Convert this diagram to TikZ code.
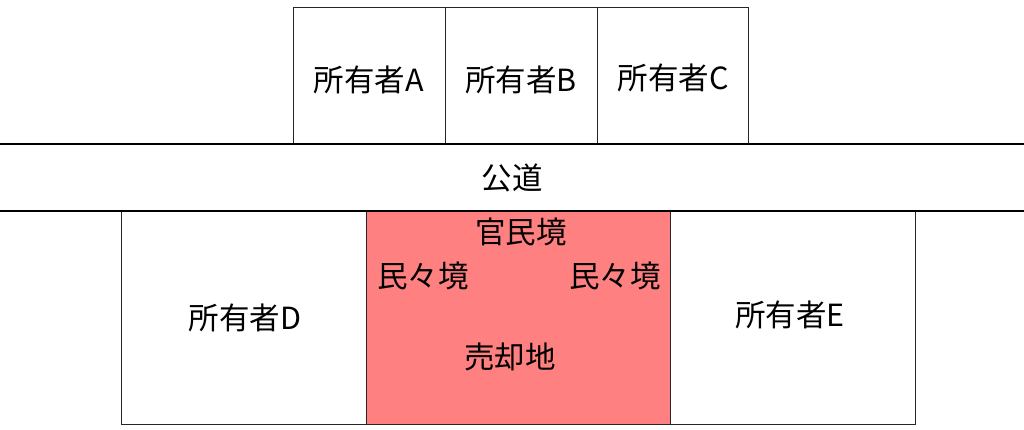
\documentclass[tikz,border=0pt]{standalone}
\usepackage{fontspec}
\setmainfont{Noto Sans CJK JP}
\definecolor{salered}{RGB}{255,128,128}
\begin{document}
\begin{tikzpicture}[x=1pt,y=-1pt,
  lot/.style={draw=black!85,line width=1pt},
  road/.style={draw=black,line width=2.8pt},
  lbl/.style={font=\fontsize{30.5}{33}\selectfont,inner sep=0pt}]
\useasboundingbox[fill=white] (0,0) rectangle (1024,429);
% top lots
\draw[lot] (293,7) rectangle (445,143);
\draw[lot] (445,7) rectangle (597,143);
\draw[lot] (597,7) rectangle (748,143);
% bottom lots
\draw[lot] (121,211) rectangle (366,424);
\draw[lot,fill=salered] (366,211) rectangle (670,424);
\draw[lot] (670,211) rectangle (915,424);
% road
\draw[road] (0,144) -- (1024,144);
\draw[road] (0,211) -- (1024,211);
% labels
\node[lbl] (a) at (369,80) {所有者A};
\node[lbl] (b) at (521,80) {所有者B};
\node[lbl] (c) at (673,78) {所有者C};
\node[lbl] (road) at (512,178) {公道};
\node[lbl] (km) at (521,232) {官民境};
\node[lbl] (ml) at (423,276) {民々境};
\node[lbl] (mr) at (615,276) {民々境};
\node[lbl] (sale) at (510,357) {売却地};
\node[lbl] (d) at (245,318) {所有者D};
\node[lbl] (e) at (790,315) {所有者E};
\end{tikzpicture}
\end{document}
